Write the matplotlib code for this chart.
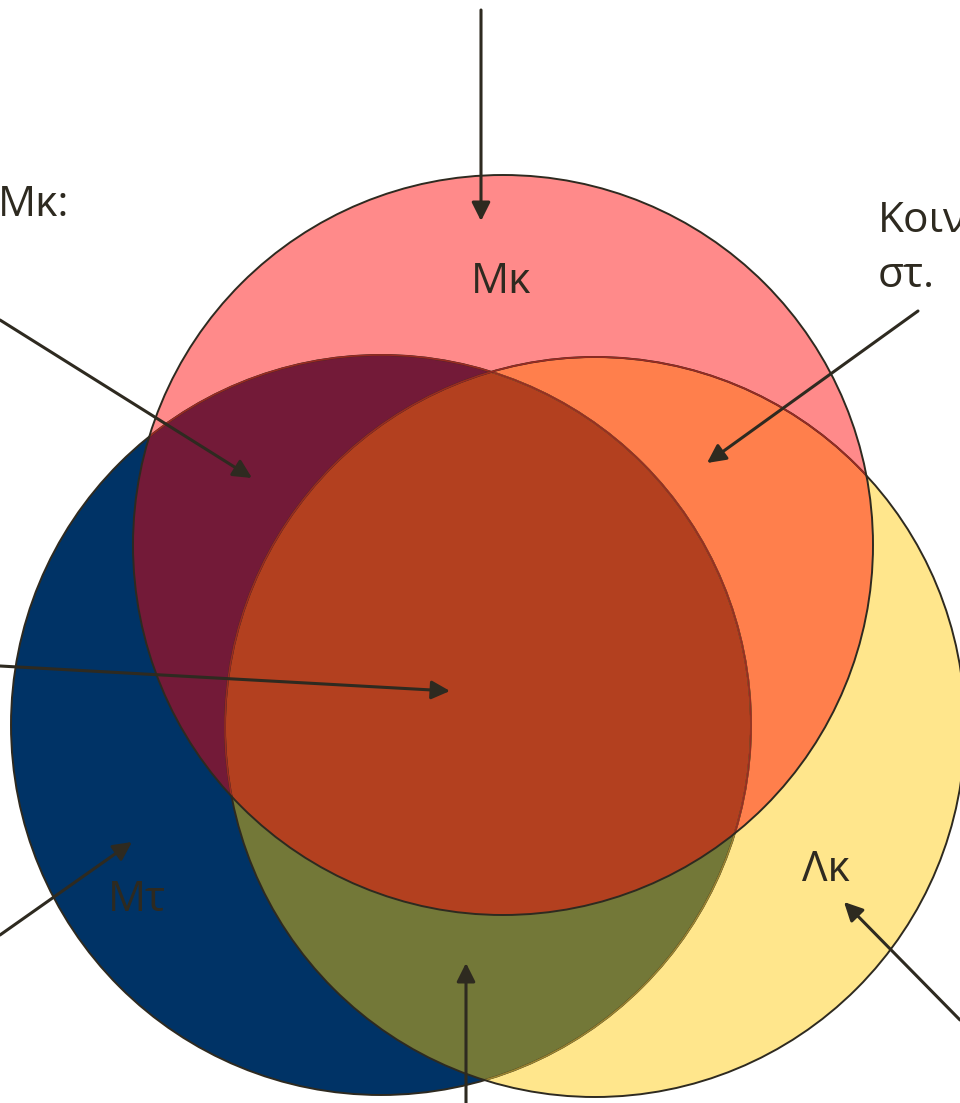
import numpy as np
import matplotlib.pyplot as plt
from matplotlib.patches import Circle, Polygon

plt.rcParams['font.family'] = ['Open Sans', 'DejaVu Sans']

# three sets: pink (Μκ), navy (Μτ), yellow (Λκ)
set_names = ['Μκ', 'Μτ', 'Λκ']
cx = [503, 381, 595]
cy = [545, 725, 727]
radius = [370, 370, 370]
set_colors = ['#FF8A8A', '#003366', '#FFE68C']

# overlap colours
col_pink_blue = '#731A38'
col_pink_yellow = '#FF7F4C'
col_blue_yellow = '#737838'
col_all = '#B3401F'

# callout texts (partly cut by the page edge in the source)
side_texts = ['Μκ:', 'Κοιν', 'στ.']
side_x = [-2, 878, 878]
side_y = [216, 232, 287]

# arrows: (start, end)
arrow_start = [(481, 10), (0, 320), (918, 311), (0, 666), (0, 935), (960, 1020), (466, 1103)]
arrow_end = [(481, 221), (252, 478), (707, 463), (450, 691), (132, 842), (844, 902), (466, 963)]

label_x = [501, 137, 826]
label_y = [293, 911, 881]

tc = '#2E2A20'

fig = plt.figure(figsize=(9.6, 11.03), dpi=100)
ax = fig.add_axes([0, 0, 1, 1])
ax.set_xlim(0, 960)
ax.set_ylim(1103, 0)
ax.set_aspect('equal')
ax.axis('off')

def circ(i, **kw):
    return Circle((cx[i], cy[i]), radius[i], transform=ax.transData, **kw)

PINK, BLUE, YEL = 0, 1, 2

# plain fills
ax.add_patch(circ(BLUE, fc=set_colors[BLUE], ec='none', zorder=1))
ax.add_patch(circ(YEL, fc=set_colors[YEL], ec='none', zorder=1))
p = circ(BLUE, fc=col_blue_yellow, ec='none', zorder=2)
ax.add_patch(p)
p.set_clip_path(circ(YEL))
ax.add_patch(circ(PINK, fc=set_colors[PINK], ec='none', zorder=3))
p = circ(PINK, fc=col_pink_blue, ec='none', zorder=4)
ax.add_patch(p)
p.set_clip_path(circ(BLUE))
p = circ(PINK, fc=col_pink_yellow, ec='none', zorder=4)
ax.add_patch(p)
p.set_clip_path(circ(YEL))

# triple overlap: points on each boundary inside the other two circles
pts = []
t = np.linspace(0, 2 * np.pi, 4000)
for i in range(3):
    x = cx[i] + radius[i] * np.cos(t)
    y = cy[i] + radius[i] * np.sin(t)
    ok = np.ones_like(t, dtype=bool)
    for j in range(3):
        if j != i:
            ok &= (x - cx[j]) ** 2 + (y - cy[j]) ** 2 <= (radius[j] + 0.3) ** 2
    pts.append(np.column_stack([x[ok], y[ok]]))
pts = np.vstack(pts)
m = pts.mean(axis=0)
pts = pts[np.argsort(np.arctan2(pts[:, 1] - m[1], pts[:, 0] - m[0]))]
ax.add_patch(Polygon(pts, closed=True, fc=col_all, ec='none', zorder=5))

# outlines
ax.add_patch(circ(BLUE, fill=False, ec=tc, lw=1.4, zorder=6))
p = circ(BLUE, fill=False, ec='#9C8530', lw=1.2, zorder=7)
ax.add_patch(p)
p.set_clip_path(circ(YEL))
p = circ(BLUE, fill=False, ec='#9A2A22', lw=1.2, zorder=8)
ax.add_patch(p)
p.set_clip_path(circ(PINK))
ax.add_patch(circ(YEL, fill=False, ec=tc, lw=1.4, zorder=9))
p = circ(YEL, fill=False, ec='#9A2A22', lw=1.2, zorder=10)
ax.add_patch(p)
p.set_clip_path(circ(PINK))
ax.add_patch(circ(PINK, fill=False, ec=tc, lw=1.4, zorder=11))

# labels
for name, x, y in zip(set_names, label_x, label_y):
    ax.text(x, y, name, fontsize=30.5, color=tc, ha='center', va='baseline', zorder=12)
for s, x, y in zip(side_texts, side_x, side_y):
    ax.text(x, y, s, fontsize=30.5, color=tc, ha='left', va='baseline', zorder=12)

# arrows
for s, e in zip(arrow_start, arrow_end):
    ax.annotate('', xy=e, xytext=s, zorder=13,
                arrowprops=dict(arrowstyle='-|>', color=tc, lw=2.2,
                                mutation_scale=28, shrinkA=0, shrinkB=0))

plt.savefig('out.png', dpi=100)
plt.close()
